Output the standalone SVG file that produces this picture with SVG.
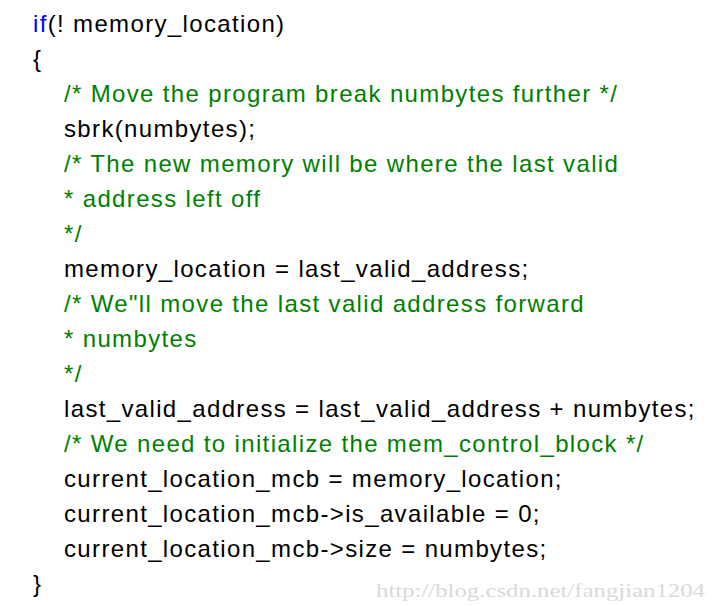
<svg xmlns="http://www.w3.org/2000/svg" width="718" height="606" viewBox="0 0 718 606">
<style>
.c{font-family:"Liberation Sans",Arial,sans-serif;font-size:24px;letter-spacing:1.35px;fill:#000}
.g{fill:#008000}
.k{fill:#0000ff}
.w{font-family:"Liberation Serif","DejaVu Serif",serif;font-size:18px;fill:#d9d9d9}
</style>
<rect width="718" height="606" fill="#fff"/>
<g id="code">
<text class="c" x="33" y="32"><tspan class="k">if</tspan>(! memory_location)</text>
<text class="c" x="33" y="67">{</text>
<text class="c g" x="64" y="102">/* Move the program break numbytes further */</text>
<text class="c" x="64" y="137">sbrk(numbytes);</text>
<text class="c g" x="64" y="172">/* The new memory will be where the last valid</text>
<text class="c g" x="64" y="207">* address left off</text>
<text class="c g" x="64" y="242">*/</text>
<text class="c" x="64" y="277">memory_location = last_valid_address;</text>
<text class="c g" x="64" y="312">/* We"ll move the last valid address forward</text>
<text class="c g" x="64" y="347">* numbytes</text>
<text class="c g" x="64" y="382">*/</text>
<text class="c" x="64" y="417">last_valid_address = last_valid_address + numbytes;</text>
<text class="c g" x="64" y="452">/* We need to initialize the mem_control_block */</text>
<text class="c" x="64" y="487">current_location_mcb = memory_location;</text>
<text class="c" x="64" y="522">current_location_mcb-&gt;is_available = 0;</text>
<text class="c" x="64" y="557">current_location_mcb-&gt;size = numbytes;</text>
<text class="c" x="33" y="592">}</text>
</g>
<text class="w" x="376" y="597" textLength="329" lengthAdjust="spacingAndGlyphs">http://blog.csdn.net/fangjian1204</text>
</svg>
